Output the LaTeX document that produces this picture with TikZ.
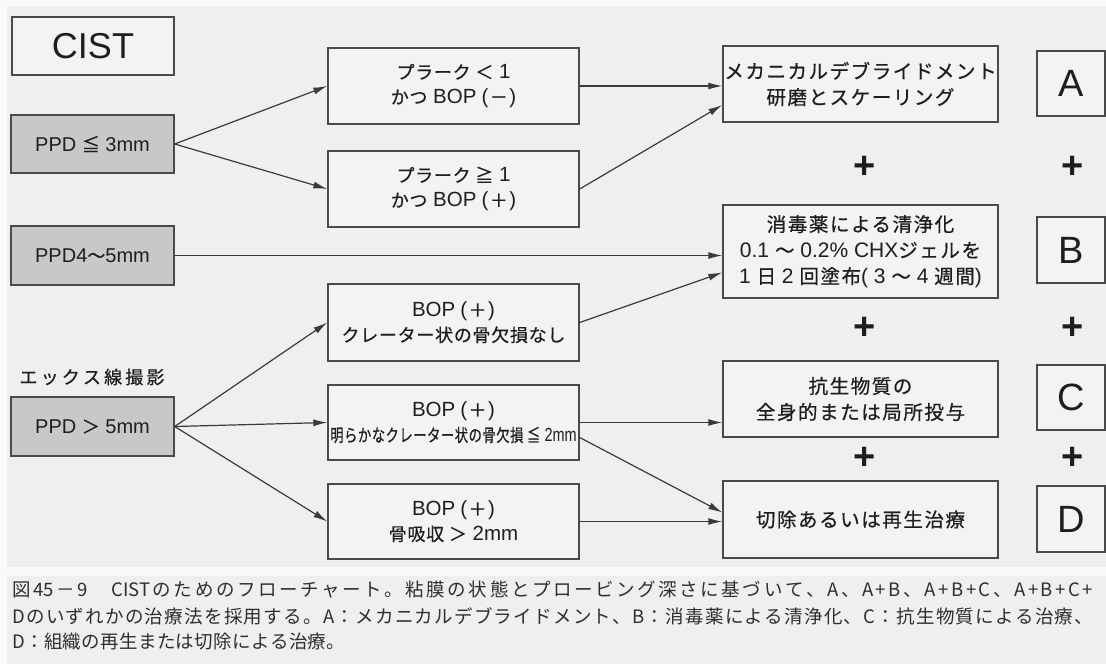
\documentclass[tikz,border=0pt]{standalone}
\usepackage{fontspec}
\usepackage{graphicx}
\setmainfont{Liberation Sans}
\newfontfamily\jp{Noto Sans CJK JP}
\newfontfamily\jpm[LetterSpace=4,FakeBold=0.6]{Noto Sans CJK JP}
\newfontfamily\jpr[LetterSpace=8,FakeBold=0.6]{Noto Sans CJK JP}
\usetikzlibrary{arrows.meta,calc}
\definecolor{outer}{HTML}{FAFAFA}
\definecolor{panel}{HTML}{EFEFEF}
\definecolor{boxf}{HTML}{F3F3F3}
\definecolor{grayf}{HTML}{C8C8C8}
\definecolor{bordc}{HTML}{4A4A4A}
\definecolor{linec}{HTML}{3A3A3A}
\definecolor{txt}{HTML}{1E1E1E}
\definecolor{captxt}{HTML}{2E2E2E}
\newcommand\J[1]{{\fontsize{18}{25}\jpm #1}}
\newcommand\JR[1]{{\fontsize{19.5}{26}\jpr #1}}
\newcommand\bop[1]{BOP\hspace{5pt}(\hspace{1.5pt}\J{#1}\hspace{1.5pt})}
\def\spr#1#2\endspr{#1\ifx\relax#2\relax\else\hfil\spr#2\endspr\fi}
\tikzset{
  bx/.style={draw=bordc, line width=1.4pt, fill=boxf, inner sep=0pt, align=center, text=txt},
  gbx/.style={bx, fill=grayf},
  midbx/.style={bx, minimum width=251pt, font=\fontsize{20.5}{25}\selectfont},
  resbx/.style={bx, minimum width=275pt, font=\fontsize{21}{26}\selectfont},
  letbx/.style={bx, minimum width=68pt, font=\fontsize{38}{38}\selectfont},
  conn/.style={draw=linec, line width=1.2pt, -{Latex[length=14pt,width=7pt]}},
  plussign/.style={inner sep=0pt, text=txt, font=\fontsize{38}{38}\selectfont\bfseries},
  captext/.style={inner sep=0pt, text=captxt, font=\fontsize{18.5}{26}\jp},
}
\begin{document}
\begin{tikzpicture}[x=1pt,y=-1pt]
\useasboundingbox (0,0) rectangle (1106,664);
\fill[outer] (0,0) rectangle (1106,664);
\fill[panel] (7,6) rectangle (1106,567);
\fill[panel] (7,576) rectangle (1106,664);

% left column
\node[bx, minimum width=162pt, minimum height=58pt, font=\fontsize{36}{36}\selectfont] (cist) at (93,46) {CIST};
\node[gbx, minimum width=163pt, minimum height=58pt, font=\fontsize{20}{24}\selectfont] (p3) at (92.5,144) {PPD \J{≦} 3mm};
\node[gbx, minimum width=163pt, minimum height=59pt, font=\fontsize{20}{24}\selectfont] (p45) at (92.5,255.5) {PPD4\J{〜}5mm};
\node[inner sep=0pt, text=txt, font=\fontsize{18}{24}\jpm] (xray) at (92,377) {\hbox to 145pt{\spr エックス線撮影\endspr}};
\node[gbx, minimum width=163pt, minimum height=59pt, font=\fontsize{20}{24}\selectfont] (p5) at (92.5,426.5) {PPD \J{＞} 5mm};

% middle column
\node[midbx, minimum height=76pt] (b1) at (453.5,86) {\J{プラーク ＜} 1\\\J{かつ} \bop{－}};
\node[midbx, minimum height=76pt] (b2) at (453.5,189) {\J{プラーク ≧} 1\\\J{かつ} \bop{＋}};
\node[midbx, minimum height=77pt] (b3) at (453.5,322.5) {\bop{＋}\\\J{クレーター状の骨欠損なし}};
\node[midbx, minimum height=75pt] (b4) at (453.5,422.5) {\bop{＋}\\\scalebox{0.76}[1]{{\fontsize{17.5}{25}\jpm 明らかなクレーター状の骨欠損 ≦} {\fontsize{19}{25}\selectfont 2mm}}};
\node[midbx, minimum height=75pt] (b5) at (453.5,521.5) {\bop{＋}\\\J{骨吸収 ＞} 2mm};

% result column
\node[resbx, minimum height=76pt] (ra) at (860.5,84) {\JR{メカニカルデブライドメント}\\\JR{研磨とスケーリング}};
\node[resbx, minimum height=93pt] (rb) at (860.5,251.5) {\JR{消毒薬による清浄化}\\0.1 \JR{〜} 0.2\% CHX\JR{ジェルを}\\1 \JR{日} 2 \JR{回塗布}( 3 \JR{〜} 4 \JR{週間})};
\node[resbx, minimum height=76pt] (rc) at (860.5,399) {\JR{抗生物質の}\\\JR{全身的または局所投与}};
\node[resbx, minimum height=77pt] (rd) at (860.5,519.5) {\JR{切除あるいは再生治療}};

% letters
\node[letbx, minimum height=65pt] (la) at (1071,83.5) {A};
\node[letbx, minimum height=66pt] (lb) at (1071,250) {B};
\node[letbx, minimum height=65pt] (lc) at (1071,397.5) {C};
\node[letbx, minimum height=66pt] (ld) at (1071,519) {D};

% plus signs
\node[plussign] (pm1) at (865,167) {+};
\node[plussign] (pm2) at (865,328) {+};
\node[plussign] (pm3) at (865,458) {+};
\node[plussign] (pr1) at (1073,167) {+};
\node[plussign] (pr2) at (1073,328) {+};
\node[plussign] (pr3) at (1073,458) {+};

% connectors
\draw[conn] (p3.east) -- (b1.west);
\draw[conn] (p3.east) -- (b2.west);
\draw[conn] (b1.east) -- (b1.east -| ra.west);
\draw[conn] (b2.east) -- ($(ra.west)+(0,21)$);
\draw[conn] (p45.east) -- (p45.east -| rb.west);
\draw[conn] (b3.east) -- ($(rb.west)+(0,21)$);
\draw[conn] (p5.east) -- (b3.west);
\draw[conn] (p5.east) -- (b4.west);
\draw[conn] (p5.east) -- (b5.west);
\draw[conn] (b4.east) -- (b4.east -| rc.west);
\draw[conn] ($(b4.east)+(0,15)$) -- ($(rd.west)+(0,-7)$);
\draw[conn] (b5.east) -- (b5.east -| rd.west);

% caption
\node[captext, anchor=west] (cap1) at (12,590) {\hbox to 1081pt{\spr 図{45}－9　{CIST}のためのフローチャート。粘膜の状態とプロービング深さに基づいて、A、A+B、A+B+C、A+B+C+\endspr}};
\node[captext, anchor=west] (cap2) at (12,616) {\hbox to 1081pt{\spr Dのいずれかの治療法を採用する。A：メカニカルデブライドメント、B：消毒薬による清浄化、C：抗生物質による治療、\endspr}};
\node[captext, anchor=west] (cap3) at (12,642) {\hbox to 333pt{\spr D：組織の再生または切除による治療。\endspr}};
\end{tikzpicture}
\end{document}
